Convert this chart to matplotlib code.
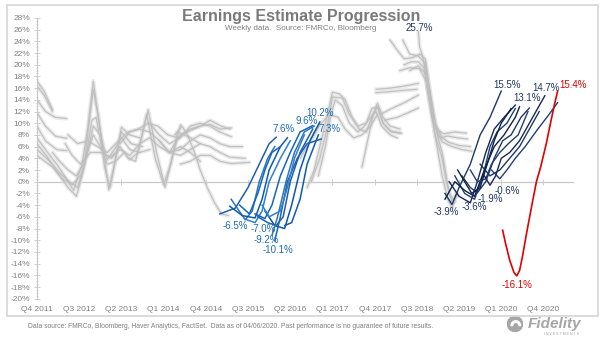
import matplotlib
matplotlib.use('Agg')
import matplotlib.pyplot as plt
from matplotlib.patches import Rectangle, Circle, Wedge
from matplotlib.ticker import MultipleLocator

plt.rcParams['font.family'] = ['Liberation Sans', 'DejaVu Sans']

# ---------------- data ----------------
quarter_ticks = [0, 3, 6, 9, 12, 15, 18, 21, 24, 27, 30, 33, 36]
quarter_labels = ['Q4 2011', 'Q3 2012', 'Q2 2013', 'Q1 2014', 'Q4 2014', 'Q3 2015',
                  'Q2 2016', 'Q1 2017', 'Q4 2017', 'Q3 2018', 'Q2 2019', 'Q1 2020', 'Q4 2020']
y_ticks = [-20, -18, -16, -14, -12, -10, -8, -6, -4, -2, 0, 2, 4, 6, 8, 10, 12, 14, 16, 18,
           20, 22, 24, 26, 28]

# grey: earlier estimate paths (x = quarters since Q4 2011, y = % growth)
g01_q = [0, 0.5, 1.1]; g01_v = [17.2, 15.5, 12.3]
g02_q = [0, 0.5, 1.1]; g02_v = [16.3, 14.8, 12.0]
g03_q = [0, 0.6, 1.3, 2.1]; g03_v = [14.0, 12.0, 11.0, 10.8]
g04_q = [0, 0.6, 1.3, 2.1]; g04_v = [11.8, 9.5, 7.8, 7.4]
g05_q = [0, 0.6, 1.4, 2.1]; g05_v = [9.5, 7.0, 5.5, 5.3]
g06_q = [0, 0.6, 1.4, 2.1, 2.6, 3.2, 3.6, 4.0, 4.3, 4.8, 5.1, 5.5, 6.0, 6.6, 7.3]
g06_v = [7.5, 5.5, 3.0, 0.5, -1.5, 3, 9, 17.2, 12, 4, -1.4, 3, 9.3, 8, 7.5]
g07_q = [0, 0.8, 1.5, 2.2, 2.8, 3.3, 3.7, 4.0, 4.4, 4.8, 5.2, 5.6, 6.0, 6.7, 7.5]
g07_v = [6.5, 4.0, 1.5, -1.0, -2.5, 2, 10, 15.8, 10.5, 2.5, -1.0, 4, 8.5, 6.5, 6.0]
g08_q = [0, 0.9, 1.6, 2.3, 2.9, 3.4, 3.9, 4.2, 4.6, 5.0, 5.5, 6.0, 6.6, 7.3, 8.0]
g08_v = [5.5, 3.5, 1.5, 0, -1, 3, 10.5, 11, 6, 3.8, 5.5, 7.5, 5.5, 5, 5.5]
g09_q = [0, 1.1, 1.8, 2.5, 3.1, 3.6, 4.0, 4.5, 4.9, 5.3, 5.9, 6.5, 7.0, 7.9, 8.5, 9.1, 9.6, 10.2]
g09_v = [4.5, 2.5, 0.5, -0.5, 1, 5, 9.5, 8, 4.5, 4, 6, 4, 3.5, 12.3, 5, -1, 4, 9.7]
g10_q = [1.1, 1.6, 2.2, 2.8, 3.3, 4.0, 4.5, 5.0, 5.6, 6.2, 6.6, 7.2, 7.8, 8.4, 9.0, 9.5, 10.0, 10.9, 11.6]
g10_v = [5.0, 3.5, 2, 1, 3, 8, 6, 3, 3.5, 5, 3.8, 5, 11.5, 4, -0.5, 3, 8.5, 7.5, 6.5]
g11_q = [2.0, 2.5, 3.1, 3.8, 4.5, 5.2, 5.9, 6.6, 7.3, 8.0, 8.7, 9.4, 10.2, 10.9, 11.6]
g11_v = [6.5, 4.5, 3, 5, 5, 4.2, 5.5, 4.5, 6.5, 7.5, 6, 5, 6, 5, 3.5]
g12_q = [2.2, 2.9, 3.6, 4.3, 5.0, 5.8, 6.5, 7.2, 7.9, 8.6, 9.3, 10.0, 10.7, 11.6, 12.3, 13.1, 13.7]
g12_v = [8, 6.5, 7, 6, 5, 7, 8.5, 9, 10, 9.5, 8, 7.5, 8.5, 9.5, 10.5, 9.5, 9]
g13_q = [5.9, 6.6, 7.3, 8.0, 8.7, 9.4, 10.2, 10.9, 11.6, 12.3, 13.0, 13.8]
g13_v = [6.5, 8.5, 9, 8.5, 7, 5, 8, 9, 9.5, 9.8, 9, 9.2]
g14_q = [8.0, 8.7, 9.4, 10.2, 10.9, 11.6, 12.3, 13.0, 13.8]
g14_v = [10, 8, 6.5, 7.5, 9.5, 10, 9.5, 8.5, 7.7]
g15_q = [8.7, 9.4, 10.2, 10.9, 11.6, 12.3, 13.0, 13.7, 14.6]
g15_v = [7, 5, 5.5, 7, 8, 7.5, 6.5, 6, 6]
g16_q = [9.4, 10.2, 10.9, 11.6, 12.3, 13.0, 13.7, 14.8]
g16_v = [5, 4.5, 5.5, 6.5, 6, 5, 4.2, 4]
g17_q = [9.8, 10.3, 10.7, 11.2, 11.6, 12.1, 12.6, 13.1, 13.6]
g17_v = [8, 9.5, 8, 5, 2, -1, -3.5, -5.5, -5.8]
g18_q = [10.2, 10.9, 11.6, 12.3, 13.0, 13.8, 15.1]
g18_v = [3, 3.5, 4.5, 4.5, 3.5, 3.1, 3.3]
g19_q = [19.2, 19.7, 20.2, 20.7, 21.0, 21.5, 21.9, 22.4, 22.9, 23.4, 23.8, 24.2, 24.6, 25.1, 25.8]
g19_v = [-1, 2, 7, 12, 15.3, 15, 14, 11, 9, 8.5, 11, 13.4, 11, 9.5, 9]
g20_q = [19.5, 20.1, 20.6, 21.0, 21.7, 22.2, 22.8, 23.4, 23.8, 24.2, 24.6, 25.2, 25.9]
g20_v = [0, 4, 9, 14.5, 14.3, 11.5, 9.5, 10, 12.5, 12.8, 10, 8.5, 8.3]
g21_q = [20.0, 20.5, 20.9, 21.2, 21.7, 22.2, 22.8, 23.2, 23.7, 24.1, 24.5, 25.1, 25.6]
g21_v = [1, 6, 11.5, 14, 13, 10, 8.5, 9.3, 11, 12, 9.5, 8, 7.5]
g22_q = [23.1, 23.5, 23.9, 24.2, 24.6, 25.1, 25.8]
g22_v = [2.5, 7, 11.5, 12.8, 10, 8.7, 8.3]
g23_q = [18.7, 19.2, 19.7, 20.2, 20.8, 21.4, 21.9, 22.5, 23.1, 23.7, 24.2]
g23_v = [4, 6, 8, 10, 11.5, 11, 9, 7.5, 8, 9.5, 11.5]
g24_q = [24.1, 25.1, 26.0, 27.1]; g24_v = [15.8, 16.0, 16.3, 16.8]
g25_q = [24.1, 25.1, 26.0, 27.0]; g25_v = [15.2, 15.4, 15.6, 15.8]
g26_q = [24.4, 25.2, 26.1, 27.1]; g26_v = [11.5, 12.5, 13.5, 14.8]
g27_q = [24.7, 25.6, 26.3, 27.1]; g27_v = [10.5, 11, 11.7, 12.6]
g28_q = [25.1, 25.6, 26.1, 26.7, 27.2, 27.6, 27.9, 28.3, 28.8, 29.3, 30.0, 30.8]
g28_v = [24.2, 22.5, 21, 21.2, 21.8, 21, 16, 10, 7.5, 6.7, 6.2, 6]
g29_q = [26.0, 26.5, 27.1, 27.5, 27.8, 28.3, 28.8, 29.5, 30.2, 30.9]
g29_v = [24.2, 21.8, 21.5, 20.5, 15, 9.5, 6.8, 6, 5.5, 5.2]
g30_q = [27.1, 27.2, 27.4, 27.7, 28.1, 28.4, 28.8, 29.3, 29.7]
g30_v = [25.7, 23, 21.5, 18.5, 13, 8.5, 5, -2, -3.5]
g31_q = [26.1, 26.6, 27.1, 27.5, 27.9, 28.3, 28.8, 29.1, 29.5, 29.8]
g31_v = [20, 20.5, 20.5, 19.5, 14, 8, 4, 0, -3.5, -2]
g32_q = [26.5, 27.1, 27.6, 28.0, 28.4, 28.8, 29.2, 29.5, 29.9]
g32_v = [19, 19.8, 18.5, 12, 6.5, 1, -3, -4.5, -2]
g33_q = [25.8, 26.5, 27.2, 27.7, 28.1, 28.6, 29.2, 29.9, 30.6]
g33_v = [19, 19.5, 19.3, 17, 11, 7.5, 7.8, 7.5, 7.3]
g34_q = [27.6, 28.0, 28.4, 28.9, 29.7, 30.5]
g34_v = [20.5, 13.5, 9, 8.2, 8.5, 8.3]

# blue: 2015-2016 estimate paths
b01_q = [13.0, 14.1, 15.0, 16.0, 16.5, 17.0]; b01_v = [-5.5, -4.5, -1, 4, 6.5, 7.6]
b02_q = [13.8, 14.8, 15.3, 15.8, 16.4, 16.9]; b02_v = [-3, -6.5, -5, 0, 4, 6]
b03_q = [13.7, 14.6, 15.5, 16.0, 16.5, 17.3, 17.8]; b03_v = [-4.2, -5.8, -6.2, -3, 2, 6, 7.5]
b04_q = [14.9, 15.5, 16.0, 16.5, 17.3, 18.0]; b04_v = [-6.5, -7.0, -5, 0, 4, 7]
b05_q = [15.5, 16.2, 16.7, 17.3, 18.0, 18.7, 19.6]; b05_v = [-5.5, -6.3, -4, 1, 5, 8.5, 9.6]
b06_q = [15.7, 16.4, 17.0, 17.5, 18.0, 18.7, 19.6]; b06_v = [-6, -7.0, -7.5, -6, 0, 5, 9]
b07_q = [16.2, 16.9, 17.6, 18.1, 18.7, 19.4, 20.1]; b07_v = [-5, -7.5, -8, -4, 2, 7, 10.2]
b08_q = [16.7, 17.1, 17.7, 18.3, 19.0, 19.7]; b08_v = [-9.2, -6, 0, 5, 8.5, 9.5]
b09_q = [16.9, 17.3, 17.8, 18.5, 19.2, 20.2]; b09_v = [-10.1, -6, 0, 4, 6.5, 7.3]
b10_q = [16.0, 16.5, 17.3, 17.8, 18.3, 19.0]; b10_v = [-4, -6, -5, -1, 4, 8]
b11_q = [14.4, 15.1, 15.7, 16.2, 16.7, 17.3]; b11_v = [-4, -5.5, -2, 2, 5, 6]
b12_q = [17.6, 18.1, 18.7, 19.2, 20.0]; b12_v = [-7.5, -7, -3, 3, 8]

# navy: 2019-2020 estimate paths
n01_q = [29.0, 29.5, 30.0, 30.8, 31.5, 32.2, 33.0]; n01_v = [-2, -3.9, -1, 3, 8, 11, 15.5]
n02_q = [29.3, 30.0, 30.8, 31.3, 31.9, 32.5, 33.2, 34.0]; n02_v = [0, -2.5, -3.6, 0, 5, 9, 11, 13.1]
n03_q = [29.7, 30.4, 31.1, 31.7, 32.2, 32.7, 33.4, 34.0]; n03_v = [1, -2, -3.0, 1, 6, 8.5, 10, 12.5]
n04_q = [29.0, 29.7, 30.4, 31.1, 31.8, 32.5, 33.2, 34.0, 34.3]; n04_v = [-3, 0, -1.5, -2.5, 2, 6, 8, 11, 12.8]
n05_q = [30.2, 30.8, 31.3, 31.9, 32.5, 33.1, 33.7, 34.4, 35.0]; n05_v = [1, -1, -1.9, 0, 4, 7, 8, 11, 12.6]
n06_q = [30.8, 31.3, 31.9, 32.3, 32.9, 33.5, 34.2, 34.9]; n06_v = [2, 0, 0.5, 3, 5, 6.5, 8, 12]
n07_q = [31.8, 32.2, 32.6, 33.0, 33.6, 34.3, 35.0, 35.7, 36.1]; n07_v = [1, -0.6, 1, 4, 5, 7, 10, 13, 14.7]
n08_q = [31.5, 32.2, 32.9, 33.6, 34.3, 35.0, 35.7]; n08_v = [3, 1, 2, 4, 6, 9, 12]
n09_q = [32.3, 32.9, 33.4, 34.0, 34.7, 35.6, 36.4, 37.0]; n09_v = [2, 0.5, 2, 4, 6, 9, 11.5, 13.5]
n10_q = [29.9, 30.4, 30.9, 31.5, 32.0, 32.5, 33.0, 33.7]; n10_v = [2, 0, -2, -1, 3, 7, 10, 12.5]

# red: current estimate path
red_q = [33.1, 33.3, 33.6, 33.9, 34.1, 34.3, 34.5, 34.8, 35.2, 35.5, 35.8, 36.2, 36.5, 36.8, 37.0]
red_v = [-8.3, -10.5, -13.4, -15.5, -16.1, -15.2, -12.9, -8.8, -3.7, 0, 2.5, 6.5, 10, 13.4, 15.4]

# annotations
blue_lbl_text = ['7.6%', '9.6%', '10.2%', '7.3%', '-6.5%', '-7.0%', '-9.2%', '-10.1%']
blue_lbl_q = [17.5, 19.2, 20.1, 20.8, 14.1, 16.1, 16.3, 17.1]
blue_lbl_v = [9.0, 10.4, 11.8, 9.0, -7.6, -8.1, -10.0, -11.6]
navy_lbl_text = ['25.7%', '15.5%', '13.1%', '14.7%', '-3.9%', '-3.6%', '-1.9%', '-0.6%']
navy_lbl_q = [27.2, 33.4, 34.8, 36.2, 29.1, 31.1, 32.2, 33.4]
navy_lbl_v = [26.3, 16.5, 14.3, 16.0, -5.2, -4.4, -2.9, -1.6]
red_lbl_text = ['15.4%', '-16.1%']
red_lbl_q = [38.1, 34.1]
red_lbl_v = [16.5, -17.7]

grey_lines = [(g01_q, g01_v), (g02_q, g02_v), (g03_q, g03_v), (g04_q, g04_v), (g05_q, g05_v),
              (g06_q, g06_v), (g07_q, g07_v), (g08_q, g08_v), (g09_q, g09_v), (g10_q, g10_v),
              (g11_q, g11_v), (g12_q, g12_v), (g13_q, g13_v), (g14_q, g14_v), (g15_q, g15_v),
              (g16_q, g16_v), (g17_q, g17_v), (g18_q, g18_v), (g19_q, g19_v), (g20_q, g20_v),
              (g21_q, g21_v), (g22_q, g22_v), (g23_q, g23_v), (g24_q, g24_v), (g25_q, g25_v),
              (g26_q, g26_v), (g27_q, g27_v), (g28_q, g28_v), (g29_q, g29_v), (g30_q, g30_v),
              (g31_q, g31_v), (g32_q, g32_v), (g33_q, g33_v), (g34_q, g34_v)]
blue_lines = [(b01_q, b01_v), (b02_q, b02_v), (b03_q, b03_v), (b04_q, b04_v), (b05_q, b05_v),
              (b06_q, b06_v), (b07_q, b07_v), (b08_q, b08_v), (b09_q, b09_v), (b10_q, b10_v),
              (b11_q, b11_v), (b12_q, b12_v)]
navy_lines = [(n01_q, n01_v), (n02_q, n02_v), (n03_q, n03_v), (n04_q, n04_v), (n05_q, n05_v),
              (n06_q, n06_v), (n07_q, n07_v), (n08_q, n08_v), (n09_q, n09_v), (n10_q, n10_v)]

# ---------------- figure ----------------
W, H = 605, 341
fig = plt.figure(figsize=(W / 100, H / 100), dpi=100)
fig.patch.set_facecolor('white')

# outer frame
fig.add_artist(Rectangle((7 / W, 1 - 316 / H), 591 / W, 311 / H, transform=fig.transFigure,
                         fill=False, edgecolor='#d9d9d9', linewidth=1.3))

ax = fig.add_axes([37 / W, 1 - 298.7 / H, 536 / W, 280.8 / H])
ax.set_facecolor('none')

for q, v in grey_lines:
    ax.plot(q, v, color='#dcdcdc', lw=3.0, alpha=0.55, solid_capstyle='round', zorder=1)
    ax.plot(q, v, color='#bdbdbd', lw=0.9, alpha=0.9, zorder=2)

blue_cols = ['#1f5fa8', '#2e75b6', '#0b5cad', '#2f80cf', '#1565c0', '#1f5fa8',
             '#0d56a6', '#2e75b6', '#1a62b0', '#2f80cf', '#1565c0', '#0b5cad']
for (q, v), c in zip(blue_lines, blue_cols):
    ax.plot(q, v, color=c, lw=1.1, zorder=3)

navy_cols = ['#1f3864', '#16285a', '#203f74', '#0e2147', '#1f3864',
             '#263f6e', '#16285a', '#1f3864', '#203f74', '#0e2147']
for (q, v), c in zip(navy_lines, navy_cols):
    ax.plot(q, v, color=c, lw=1.0, zorder=4)

ax.plot(red_q, red_v, color='#e00000', lw=1.2, zorder=5)

for t, q, v in zip(blue_lbl_text, blue_lbl_q, blue_lbl_v):
    ax.text(q, v, t, color='#1f6ab5', fontsize=7, ha='center', va='center', zorder=6, clip_on=False)
for t, q, v in zip(navy_lbl_text, navy_lbl_q, navy_lbl_v):
    ax.text(q, v, t, color='#1f3864', fontsize=7, ha='center', va='center', zorder=6, clip_on=False)
for t, q, v in zip(red_lbl_text, red_lbl_q, red_lbl_v):
    ax.text(q, v, t, color='#e00000', fontsize=7, ha='center', va='center', zorder=6, clip_on=False)

# axes styling
for s in ['top', 'right', 'bottom']:
    ax.spines[s].set_visible(False)
ax.spines['left'].set_color('#c8c8c8')
ax.spines['left'].set_linewidth(0.8)

ax.set_yticks(y_ticks)
ax.set_yticklabels([f'{t}%' for t in y_ticks])
ax.yaxis.set_minor_locator(MultipleLocator(0.5))
ax.tick_params(axis='y', which='major', direction='inout', length=4, width=0.6, color='#c8c8c8',
               labelsize=6, labelcolor='#808080', pad=3)
ax.tick_params(axis='y', which='minor', direction='inout', length=2, width=0.4, color='#c8c8c8')

ax.set_xticks(quarter_ticks)
ax.set_xticklabels(quarter_labels)
ax.tick_params(axis='x', length=0, labelsize=6, labelcolor='#808080', pad=5)
ax.set_xlim(0, 38.1)
ax.set_ylim(-20, 28)

# zero axis line with ticks
zero_ax = ax.secondary_xaxis(20 / 48)
zero_ax.spines['bottom'].set_color('#c8c8c8')
zero_ax.spines['bottom'].set_linewidth(0.9)
zero_ax.set_xticks(quarter_ticks)
zero_ax.tick_params(axis='x', direction='inout', length=4, width=0.6, color='#c8c8c8', labelbottom=False)

# title / subtitle
fig.text(301 / W, 1 - 16.5 / H, 'Earnings Estimate Progression', ha='center', va='center',
         fontsize=11.5, fontweight='bold', color='#7a7a7a')
fig.text(301 / W, 1 - 29 / H, 'Weekly data.  Source: FMRCo, Bloomberg', ha='center', va='center',
         fontsize=5.8, color='#7f7f7f')

# footer
fig.text(28 / W, 1 - 327 / H,
         'Data source: FMRCo, Bloomberg, Haver Analytics, FactSet.  Data as of 04/06/2020. '
         'Past performance is no guarantee of future results.',
         ha='left', va='center', fontsize=4.9, color='#7f7f7f')

# logo
fig.text(555 / W, 1 - 324 / H, 'Fidelity', ha='center', va='center', fontsize=11,
         fontweight='bold', style='italic', color='#a6a6a6')
fig.text(562 / W, 1 - 334 / H, 'I N V E S T M E N T S', ha='center', va='center', fontsize=2.5,
         color='#a6a6a6')
lax = fig.add_axes([507 / W, 1 - 332 / H, 16 / W, 16 / H])
lax.set_xlim(-1, 1); lax.set_ylim(-1, 1); lax.axis('off')
lax.add_patch(Circle((0, 0), 0.95, color='#a6a6a6'))
lax.add_patch(Wedge((0.1, -0.2), 0.6, 0, 180, width=0.2, color='white'))

fig.savefig('out.png', dpi=100, facecolor='white')
